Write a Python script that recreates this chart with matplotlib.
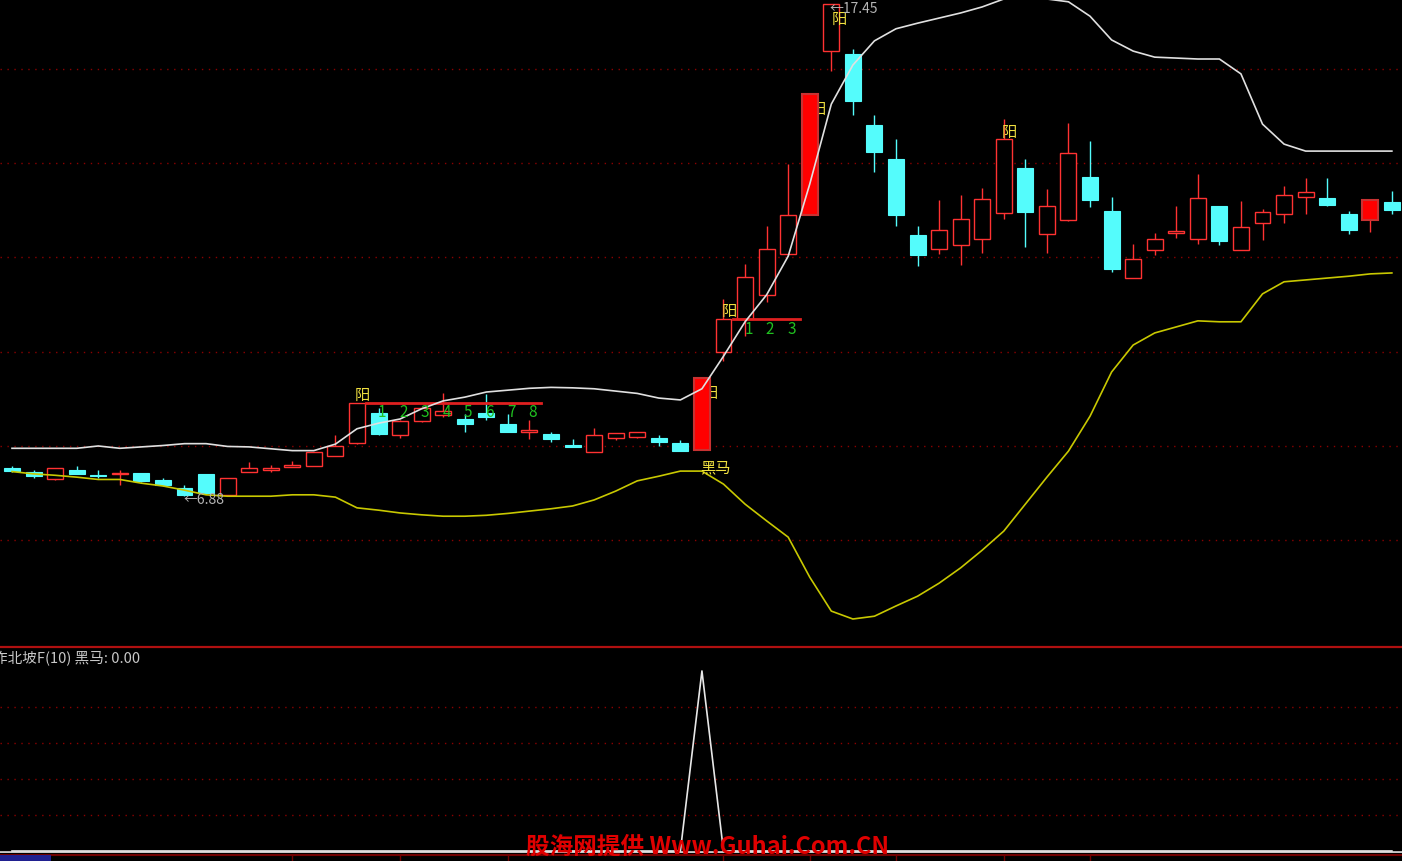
import matplotlib
matplotlib.use("Agg")
import matplotlib.pyplot as plt
from matplotlib.patches import Rectangle

plt.rcParams["font.family"] = ["Noto Sans CJK SC", "DejaVu Sans"]

# daily candles
opens = [7.47, 7.40, 7.24, 7.44, 7.33, 7.34, 7.36, 7.21, 7.05, 7.34,
         6.90, 7.38, 7.43, 7.50, 7.52, 7.73, 8.01, 8.65, 8.19, 8.48,
         8.62, 8.52, 8.65, 8.43, 8.25, 8.20, 7.98, 7.81, 8.12, 8.14,
         8.13, 8.01, 7.86, 9.97, 10.68, 11.20, 12.08, 12.92, 16.44, 16.37,
         14.85, 14.11, 12.48, 12.19, 12.27, 12.40, 12.95, 13.92, 12.51, 12.80,
         13.73, 13.01, 11.57, 12.16, 12.52, 12.41, 13.10, 12.16, 12.75, 12.93,
         13.31, 13.28, 12.93, 12.81, 13.20]
highs = [7.52, 7.43, 7.48, 7.51, 7.43, 7.43, 7.36, 7.26, 7.12, 7.35,
         7.26, 7.61, 7.54, 7.62, 7.82, 8.18, 8.88, 8.77, 8.51, 8.79,
         9.08, 8.63, 9.07, 8.63, 8.50, 8.26, 8.10, 8.34, 8.22, 8.25,
         8.19, 8.08, 9.41, 11.11, 11.86, 12.68, 14.02, 15.51, 17.45, 16.49,
         15.06, 14.54, 12.69, 13.23, 13.34, 13.49, 14.99, 14.13, 13.48, 14.89,
         14.50, 13.31, 12.30, 12.52, 13.10, 13.79, 13.12, 13.21, 13.05, 13.53,
         13.71, 13.71, 13.01, 13.23, 13.44]
lows = [7.39, 7.26, 7.22, 7.34, 7.26, 7.11, 7.18, 7.09, 6.88, 6.93,
        6.90, 7.38, 7.39, 7.49, 7.52, 7.73, 8.00, 8.19, 8.13, 8.47,
        8.57, 8.26, 8.51, 8.26, 8.11, 8.03, 7.92, 7.81, 8.08, 8.13,
        7.96, 7.84, 7.86, 9.78, 10.31, 11.05, 12.08, 12.92, 16.01, 15.07,
        13.85, 12.67, 11.82, 12.08, 11.84, 12.10, 12.83, 12.22, 12.10, 12.78,
        13.08, 11.70, 11.57, 12.06, 12.43, 12.29, 12.27, 12.16, 12.38, 12.75,
        12.94, 13.10, 12.51, 12.56, 12.94]
closes = [7.41, 7.30, 7.48, 7.35, 7.30, 7.37, 7.20, 7.12, 6.90, 6.94,
          7.26, 7.47, 7.48, 7.54, 7.82, 7.95, 8.88, 8.21, 8.49, 8.76,
          8.71, 8.42, 8.58, 8.26, 8.30, 8.11, 7.92, 8.18, 8.22, 8.25,
          8.03, 7.84, 9.41, 10.68, 11.58, 12.19, 12.91, 15.51, 17.45, 15.37,
          14.28, 12.92, 12.06, 12.60, 12.82, 13.27, 14.54, 12.99, 13.12, 14.24,
          13.24, 11.76, 11.98, 12.41, 12.58, 13.28, 12.36, 12.66, 12.97, 13.34,
          13.41, 13.13, 12.59, 13.23, 13.02]

upper_band = [7.90, 7.90, 7.90, 7.90, 7.95, 7.90, 7.93, 7.96, 8.00, 8.00,
              7.94, 7.93, 7.89, 7.85, 7.85, 7.99, 8.32, 8.44, 8.53, 8.75,
              8.92, 9.00, 9.11, 9.15, 9.19, 9.21, 9.20, 9.18, 9.13, 9.08,
              8.98, 8.94, 9.18, 9.88, 10.62, 11.20, 12.03, 13.58, 15.30, 16.14,
              16.66, 16.92, 17.04, 17.15, 17.26, 17.39, 17.56, 17.60, 17.56, 17.50,
              17.19, 16.68, 16.44, 16.31, 16.29, 16.27, 16.27, 15.95, 14.87, 14.44,
              14.29, 14.29, 14.29, 14.29, 14.29]
lower_band = [7.40, 7.35, 7.32, 7.28, 7.23, 7.23, 7.15, 7.09, 7.00, 6.90,
              6.87, 6.87, 6.87, 6.90, 6.90, 6.85, 6.62, 6.57, 6.51, 6.47,
              6.44, 6.44, 6.46, 6.50, 6.55, 6.60, 6.66, 6.79, 6.98, 7.20,
              7.30, 7.41, 7.41, 7.13, 6.70, 6.34, 5.99, 5.13, 4.40, 4.23,
              4.29, 4.51, 4.72, 5.00, 5.33, 5.71, 6.12, 6.70, 7.28, 7.84,
              8.59, 9.54, 10.12, 10.38, 10.51, 10.64, 10.62, 10.62, 11.22, 11.48,
              11.52, 11.56, 11.60, 11.65, 11.67]

# indicator 黑马 per candle
heima = [0, 0, 0, 0, 0, 0, 0, 0, 0, 0,
         0, 0, 0, 0, 0, 0, 0, 0, 0, 0,
         0, 0, 0, 0, 0, 0, 0, 0, 0, 0,
         0, 0, 100, 0, 0, 0, 0, 0, 0, 0,
         0, 0, 0, 0, 0, 0, 0, 0, 0, 0,
         0, 0, 0, 0, 0, 0, 0, 0, 0, 0,
         0, 0, 0, 0, 0]

solid_bars = [32, 37, 63]
yang_marks = [16, 32, 33, 37, 38, 46]
yang_inside = [32, 37, 38]
count_runs = [(16, 8), (33, 3)]
heima_bar = 32
grid_prices = [5.93, 7.96, 9.98, 12.01, 14.03, 16.06]
sub_grid = [20, 40, 60, 80]
bottom_ticks = [13, 18, 23, 33, 37, 41, 46, 50]

RED = "#ff3232"
CYAN = "#54fcfc"
YELLOW = "#f0e040"
GREEN = "#20c020"
GRID = "#8c0000"

W, H = 1402, 862
fig = plt.figure(figsize=(W / 100, H / 100), dpi=100, facecolor="black")
ax = fig.add_axes([0, (H - 648) / H, 1, 648 / H])
sub = fig.add_axes([0, (H - 853) / H, 1, (853 - 648) / H])
strip = fig.add_axes([0, 0, 1, (H - 854) / H])

xlim = (-0.557, 64.47)
for a in (ax, sub, strip):
    a.set_facecolor("black")
    a.set_xlim(*xlim)
    a.set_xticks([])
    a.set_yticks([])
    for s in a.spines.values():
        s.set_visible(False)

ax.set_ylim(3.628, 17.56)
for g in grid_prices:
    ax.axhline(g, color=GRID, lw=1, ls=(0, (1, 4)), zorder=0)

bw = 0.74
for i in range(len(opens)):
    o, h, l, c = opens[i], highs[i], lows[i], closes[i]
    top, bot = max(o, c), min(o, c)
    if c >= o:
        if i in solid_bars:
            ax.add_patch(Rectangle((i - bw / 2, bot), bw, top - bot, facecolor="#ff0000",
                                   edgecolor="#c83232", lw=1.5, zorder=3))
        else:
            ax.add_patch(Rectangle((i - bw / 2, bot), bw, top - bot, facecolor="black",
                                   edgecolor=RED, lw=1, zorder=1))
        ax.vlines(i, top, h, color=RED, lw=1, zorder=1)
        ax.vlines(i, l, bot, color=RED, lw=1, zorder=1)
    else:
        ax.vlines(i, l, h, color=CYAN, lw=1, zorder=1)
        ax.add_patch(Rectangle((i - bw / 2, bot), bw, top - bot, facecolor=CYAN,
                               edgecolor=CYAN, lw=0.8, zorder=1))

x = list(range(len(opens)))
ax.plot(x, upper_band, color="#e0e0e0", lw=1.2, zorder=4)
ax.plot(x, lower_band, color="#c8c800", lw=1.2, zorder=4)

for i in yang_marks:
    if i in yang_inside:
        ax.annotate("阳", (i, closes[i]), xytext=(0.5, -4), textcoords="offset points",
                    ha="left", va="top", color=YELLOW, fontsize=11, zorder=2)
    else:
        ax.annotate("阳", (i, closes[i]), xytext=(-1.5, 0), textcoords="offset points",
                    ha="left", va="bottom", color=YELLOW, fontsize=11, zorder=2)

for start, n in count_runs:
    lvl = closes[start]
    ax.plot([start + 0.42, start + n + 0.55], [lvl, lvl], color="#e02020", lw=2, zorder=3.5)
    for k in range(1, n + 1):
        ax.annotate(str(k), (start + k, lvl), xytext=(2.5, -0.5), textcoords="offset points",
                    ha="center", va="top", color=GREEN, fontsize=11, zorder=5)

ax.annotate("黑马", (heima_bar, lows[heima_bar]), xytext=(-1, -6), textcoords="offset points",
            ha="left", va="top", color=YELLOW, fontsize=11, zorder=5)

lo_i = lows.index(min(lows))
hi_i = highs.index(max(highs))
ax.annotate(f"←{lows[lo_i]:.2f}", (lo_i, lows[lo_i]), xytext=(-1, -2.5), textcoords="offset points",
            ha="left", va="center", color="#b4b4b4", fontsize=10, zorder=5)
ax.annotate(f"←{highs[hi_i]:.2f}", (hi_i, highs[hi_i]), xytext=(-1, -2.5), textcoords="offset points",
            ha="left", va="center", color="#b4b4b4", fontsize=10, zorder=5)

# indicator panel
sub.set_ylim(-0.56, 113.3)
for g in sub_grid:
    sub.axhline(g, color=GRID, lw=1, ls=(0, (1, 4)), zorder=0)
sub.plot(x, heima, color="#e8e8e8", lw=1.2, zorder=3)
sub.spines["top"].set_visible(True)
sub.spines["top"].set_color("#b01010")
sub.spines["top"].set_linewidth(1.6)
sub.spines["bottom"].set_visible(True)
sub.spines["bottom"].set_color("#c8c8c8")
sub.spines["bottom"].set_linewidth(2)
fig.text(-7 / W, 1 - 659 / H, f"作北坡F(10) 黑马: {heima[-1]:.2f}", color="#c8c8c8",
         fontsize=10.5, ha="left", va="center")

# date strip
strip.set_ylim(0, 1)
strip.axhline(0.75, color="#700000", lw=1.5)
strip.vlines(bottom_ticks, 0, 0.75, color="#700000", lw=1)
strip.add_patch(Rectangle((xlim[0], 0), 51 / 21.56, 0.75, facecolor="#202090", zorder=2))

fig.text(707 / W, 1 - 847 / H, "股海网提供 Www.Guhai.Com.CN", color="#e00000",
         fontsize=17, fontweight="bold", ha="center", va="center", zorder=10)

fig.savefig("out.png", dpi=100, facecolor="black")
